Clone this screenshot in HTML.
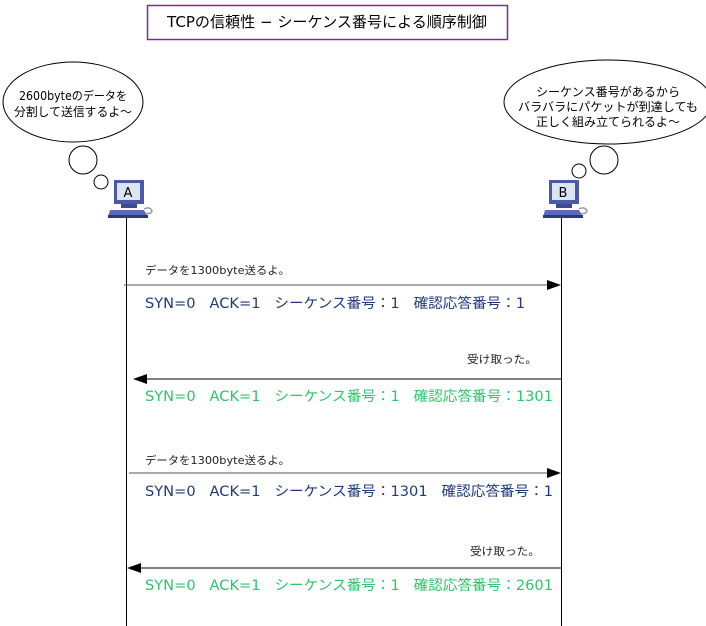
<!DOCTYPE html>
<html><head><meta charset="utf-8"><style>
html,body{margin:0;padding:0;background:#fff;}
svg{display:block;}
text{font-family:"DejaVu Sans","Liberation Sans","Noto Sans CJK JP",sans-serif;}
</style></head><body>
<svg width="706" height="626" viewBox="0 0 706 626" xmlns="http://www.w3.org/2000/svg">
<defs>
<g id="pc">
  <rect x="6" y="0" width="30" height="24" fill="#4a5aa8"/>
  <rect x="9" y="3" width="23" height="17" fill="#dde4f2"/>
  <rect x="13" y="24" width="16" height="4" fill="#3d4a90"/>
  <polygon points="2,30 36,30 40,37 0,37" fill="#5a6ab8"/>
  <rect x="0" y="35" width="40" height="3" fill="#2e3a78"/>
  <path d="M36,29 q6,-3 8,2 q-2,4 -6,2" fill="none" stroke="#99a" stroke-width="1.5"/>
</g>
</defs>
<rect x="147.5" y="5.5" width="360" height="34" fill="#fff" stroke="#7030a0" stroke-width="1.5"/>
<text x="327" y="27" font-size="15" text-anchor="middle" fill="#000" textLength="320" lengthAdjust="spacingAndGlyphs">TCPの信頼性 − シーケンス番号による順序制御</text>

<ellipse cx="73" cy="102" rx="70" ry="40" fill="#fff" stroke="#000"/>
<text x="73" y="100" font-size="12" text-anchor="middle" textLength="108" lengthAdjust="spacingAndGlyphs">2600byteのデータを</text>
<text x="73" y="116" font-size="12" text-anchor="middle" textLength="118" lengthAdjust="spacingAndGlyphs">分割して送信するよ～</text>
<circle cx="83" cy="160" r="14" fill="#fff" stroke="#000"/>
<circle cx="101" cy="182" r="7" fill="#fff" stroke="#000"/>

<ellipse cx="608" cy="102" rx="104" ry="42" fill="#fff" stroke="#000"/>
<text x="608" y="96" font-size="12" text-anchor="middle" textLength="144" lengthAdjust="spacingAndGlyphs">シーケンス番号があるから</text>
<text x="608" y="111" font-size="12" text-anchor="middle" textLength="180" lengthAdjust="spacingAndGlyphs">バラバラにパケットが到達しても</text>
<text x="608" y="126" font-size="12" text-anchor="middle" textLength="144" lengthAdjust="spacingAndGlyphs">正しく組み立てられるよ～</text>
<circle cx="604" cy="160" r="14" fill="#fff" stroke="#000"/>
<circle cx="579" cy="171" r="7" fill="#fff" stroke="#000"/>

<use href="#pc" x="108" y="180"/>
<text x="128" y="197" font-size="13" text-anchor="middle">A</text>
<use href="#pc" x="543" y="180"/>
<text x="563" y="197" font-size="13" text-anchor="middle">B</text>

<line x1="126.5" y1="218" x2="126.5" y2="626" stroke="#000"/>
<line x1="561.5" y1="218" x2="561.5" y2="626" stroke="#000"/>

<text x="145" y="274" font-size="11" fill="#222" textLength="145" lengthAdjust="spacingAndGlyphs">データを1300byte送るよ。</text>
<line x1="124" y1="285" x2="550" y2="285" stroke="#555"/>
<polygon points="561,285 547,280 547,290" fill="#000"/>
<text x="145" y="308" font-size="14" fill="#1f3a7a" textLength="380" lengthAdjust="spacingAndGlyphs" xml:space="preserve">SYN=0   ACK=1   シーケンス番号：1   確認応答番号：1</text>

<text x="467" y="363" font-size="11" fill="#222" textLength="70" lengthAdjust="spacingAndGlyphs">受け取った。</text>
<line x1="140" y1="379" x2="561" y2="379" stroke="#000"/>
<polygon points="133,379 147,374 147,384" fill="#000"/>
<text x="145" y="401" font-size="14" fill="#2ec46a" textLength="408" lengthAdjust="spacingAndGlyphs" xml:space="preserve">SYN=0   ACK=1   シーケンス番号：1   確認応答番号：1301</text>

<text x="145" y="464" font-size="11" fill="#222" textLength="145" lengthAdjust="spacingAndGlyphs">データを1300byte送るよ。</text>
<line x1="129" y1="473" x2="550" y2="473" stroke="#555"/>
<polygon points="561,473 547,468 547,478" fill="#000"/>
<text x="145" y="496" font-size="14" fill="#1f3a7a" textLength="408" lengthAdjust="spacingAndGlyphs" xml:space="preserve">SYN=0   ACK=1   シーケンス番号：1301   確認応答番号：1</text>

<text x="470" y="555" font-size="11" fill="#222" textLength="70" lengthAdjust="spacingAndGlyphs">受け取った。</text>
<line x1="134" y1="568" x2="561" y2="568" stroke="#000"/>
<polygon points="127,568 141,563 141,573" fill="#000"/>
<text x="145" y="590" font-size="14" fill="#2ec46a" textLength="408" lengthAdjust="spacingAndGlyphs" xml:space="preserve">SYN=0   ACK=1   シーケンス番号：1   確認応答番号：2601</text>
</svg>
</body></html>
